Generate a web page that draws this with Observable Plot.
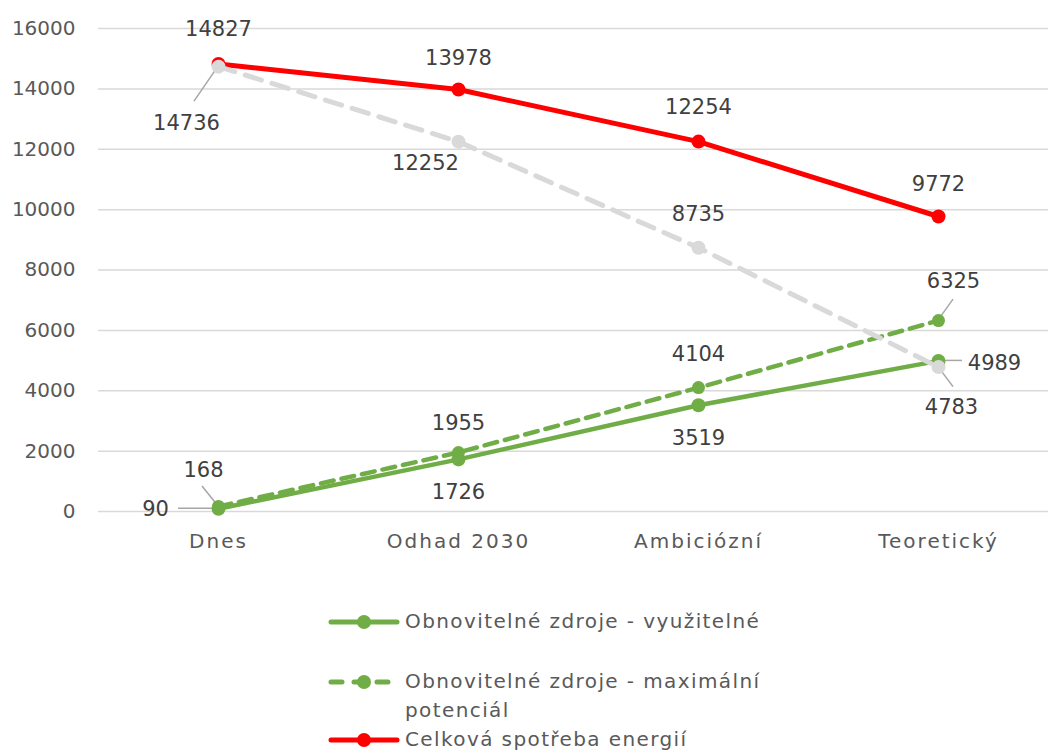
<!DOCTYPE html>
<html>
<head>
<meta charset="utf-8">
<script src="https://cdn.jsdelivr.net/npm/d3@7"></script>
<script src="https://cdn.jsdelivr.net/npm/@observablehq/plot@0.6"></script>
<style>
  html, body { margin: 0; padding: 0; background: #fff; }
  body { width: 1048px; height: 751px; overflow: hidden; position: relative;
         font-family: "Century Gothic", "DejaVu Sans", sans-serif; }
  #legend { position: absolute; left: 328px; top: 607px; color: #595959; font-size: 20px; line-height: 29px; letter-spacing: 1.4px; }
  .row { display: flex; align-items: flex-start; }
  .row svg { flex: none; margin-top: 4px; margin-right: 5px; }
  .row span { width: 420px; }
  .xaxis text { letter-spacing: 2px; }
</style>
</head>
<body>
<div id="chart"></div>
<div id="legend"></div>
<script>
// ---- data ----
const categories = ["Dnes", "Odhad 2030", "Ambiciózní", "Teoretický"];
const ozeVyuzitelne = [90, 1726, 3519, 4989];
const ozeMaximalni = [168, 1955, 4104, 6325];
const celkovaSpotreba = [14827, 13978, 12254, 9772];
const spotrebaVarianta = [14736, 12252, 8735, 4783];
const seriesNames = [
  "Obnovitelné zdroje - využitelné",
  "Obnovitelné zdroje - maximální potenciál",
  "Celková spotřeba energií",
  "Spotřeba energií - varianta"
];
const yTicks = [0, 2000, 4000, 6000, 8000, 10000, 12000, 14000, 16000];

// ---- styles ----
const styles = [
  {stroke: "#70ad47", width: 4.5, dash: null, r: 7},
  {stroke: "#70ad47", width: 4.5, dash: "13,8", r: 6.5},
  {stroke: "#ff0000", width: 5, dash: null, r: 7},
  {stroke: "#d9d9d9", width: 5, dash: "17,11", r: 7}
];
const allValues = [ozeVyuzitelne, ozeMaximalni, celkovaSpotreba, spotrebaVarianta];
const series = allValues.map((vals, s) =>
  vals.map((v, i) => ({cat: categories[i], value: v, series: seriesNames[s]})));

// label offsets (pixels) per series/point: [dx, dy, leaderDx, leaderDy]
const labelOffsets = [
  [[-63, 0, -40, 0], [0, 33], [0, 33], [56, 2, 24, 0]],
  [[-15, -36, -16, -20], [0, -29], [0, -33], [15, -39, 15, -21]],
  [[0, -35], [0, -31], [0, -34], [0, -32]],
  [[-32, 57, -24, 35], [-33, 22], [0, -34], [13, 40, 15, 20]]
];

const labelMarks = [];
const leaders = [];
series.forEach((data, s) => data.forEach((d, i) => {
  const o = labelOffsets[s][i];
  labelMarks.push(Plot.text([d], {x: "cat", y: "value", text: d => String(d.value),
    dx: o[0], dy: o[1], fill: "#404040", fontSize: 21}));
  if (o.length > 2) leaders.push({d, ldx: o[2], ldy: o[3]});
}));

const leaderMark = (index, scales, values, dimensions, context) => {
  const g = d3.create("svg:g");
  for (const L of leaders) {
    const x = scales.x(L.d.cat), y = scales.y(L.d.value);
    g.append("line").attr("x1", x).attr("y1", y)
      .attr("x2", x + L.ldx).attr("y2", y + L.ldy)
      .attr("stroke", "#a6a6a6").attr("stroke-width", 1.5);
  }
  return g.node();
};

const lineMarks = [];
series.forEach((data, s) => {
  const st = styles[s];
  lineMarks.push(Plot.line(data, {x: "cat", y: "value", stroke: st.stroke, strokeWidth: st.width,
    strokeDasharray: st.dash, strokeLinecap: "round"}));
  lineMarks.push(Plot.dot(data, {x: "cat", y: "value", r: st.r, fill: st.stroke}));
});

const H = 575;
const chart = Plot.plot({
  width: 1048,
  height: H,
  marginLeft: 98,
  marginRight: 0,
  marginTop: 28,
  marginBottom: H - 511,
  style: {fontFamily: '"Century Gothic", "DejaVu Sans", sans-serif', fontSize: "20px", color: "#595959", background: "white"},
  x: {type: "point", domain: categories, range: [218, 938], padding: 0},
  y: {domain: [0, 16000]},
  marks: [
    Plot.gridY(yTicks, {stroke: "#d9d9d9", strokeOpacity: 1, strokeWidth: 1.5}),
    Plot.axisY(yTicks, {tickSize: 0, tickPadding: 23, label: null, fontSize: 20, tickFormat: d => String(d)}),
    Plot.axisX({tickSize: 0, tickPadding: 22, label: null, fontSize: 20, className: "xaxis"}),
    leaderMark,
    ...lineMarks,
    ...labelMarks
  ]
});
document.getElementById("chart").appendChild(chart);

// ---- legend (first three entries visible) ----
const legend = d3.select("#legend");
const legendRows = [0, 1, 2];
const rowMargins = [31, 0, 0];
legendRows.forEach((s, k) => {
  const st = styles[s];
  const row = legend.append("div").attr("class", "row").style("margin-bottom", rowMargins[k] + "px");
  const sv = row.append("svg").attr("width", 72).attr("height", 22);
  sv.append("line").attr("x1", 3).attr("x2", 69).attr("y1", 11).attr("y2", 11)
    .attr("stroke", st.stroke).attr("stroke-width", 5).attr("stroke-linecap", "round")
    .attr("stroke-dasharray", st.dash ? "11,12" : null);
  sv.append("circle").attr("cx", 36).attr("cy", 11).attr("r", 7).attr("fill", st.stroke);
  row.append("span").text(seriesNames[s]);
});
</script>
</body>
</html>
